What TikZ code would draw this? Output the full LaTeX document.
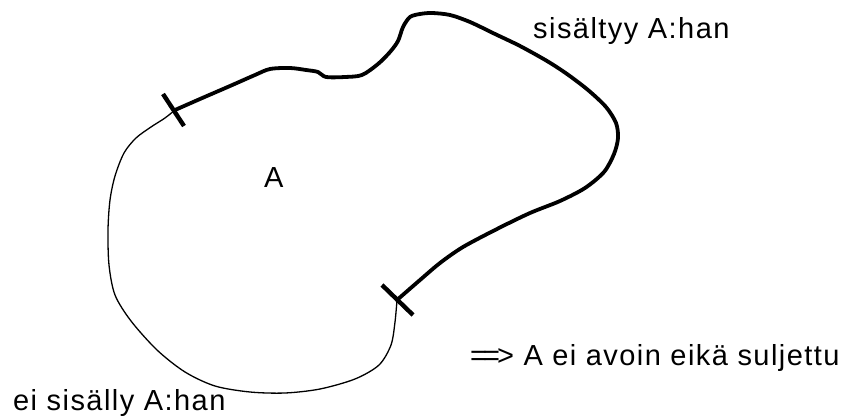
\documentclass[tikz,border=0pt]{standalone}
\usepackage{fontspec}
\setmainfont[LetterSpace=5]{Liberation Sans}
\begin{document}
\begin{tikzpicture}[x=1pt,y=-1pt,
  thickpart/.style={line width=3.8pt,line join=round,line cap=round},
  thinpart/.style={line width=1.3pt,line join=round},
  tickmark/.style={line width=4.4pt},
  lbl/.style={inner sep=0pt,anchor=base west,font=\fontsize{29}{33}\selectfont}]
\useasboundingbox (0,0) rectangle (858,419);
\coordinate (p) at (175,110);
\coordinate (q) at (397,300);
% included part (thick)
\draw[thickpart] plot[smooth,tension=0.5] coordinates {
 (175,110) (200,99) (230,86) (255,75) (270,69) (290,68) (306,70) (318,72) (326,77) (345,77) (362,75)
 (378,64) (390,52) (398,41) (403,27) (410,17) (420,14) (432,13) (450,15) (470,22) (495,34)
 (520,46) (547,61) (567,74) (588,90) (606,107) (616,123) (618,138) (614,154) (604,172)
 (585,188) (560,201) (530,213) (497,229) (463,247) (440,263) (420,280) (397,300)};
% not included part (thin)
\draw[thinpart] plot[smooth,tension=0.5] coordinates {
 (397,300) (395,322) (391,345) (379,365) (355,379) (320,389) (285,393) (250,392) (215,386)
 (185,372) (157,350) (131,321) (115,295) (109,265) (108,230) (110,200) (115,176) (124,153)
 (136,138) (151,127) (165,118) (175,110)};
% tick marks
\draw[tickmark] (163,94) -- (184,126);
\draw[tickmark] (382,285) -- (413,315);
% labels
\node[lbl] (A) at (264,188) {A};
\node[lbl] (inc) at (533,39) {sisältyy A:han};
\node[lbl] (exc) at (13,410) {ei sisälly A:han};
\node[lbl] (concl) at (470,365) {=\kern-4pt=\kern-3pt> A ei avoin eikä suljettu};
\end{tikzpicture}
\end{document}
